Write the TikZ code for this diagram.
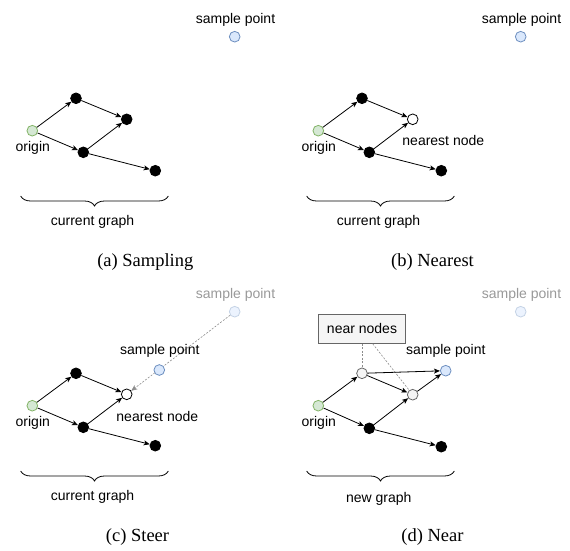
\documentclass[tikz,border=0pt]{standalone}
\usepackage{fontspec}
\setmainfont{Liberation Serif}
\newfontfamily\labfont{Liberation Sans}
\usetikzlibrary{arrows.meta,decorations.pathreplacing}
\definecolor{blueF}{HTML}{DAE8FC}
\definecolor{blueD}{HTML}{6C8EBF}
\definecolor{greenF}{HTML}{D5E8D4}
\definecolor{greenD}{HTML}{82B366}
\definecolor{grayF}{HTML}{F5F5F5}
\definecolor{grayD}{HTML}{666666}
\begin{document}
\begin{tikzpicture}[x=1pt,y=-1pt,
 ptbase/.style={circle,minimum size=10.7pt,inner sep=0pt,line width=0.8pt},
 blk/.style={ptbase,fill=black,draw=black},
 org/.style={ptbase,fill=greenF,draw=greenD},
 smp/.style={ptbase,fill=blueF,draw=blueD},
 fsmp/.style={ptbase,fill=blueF!50,draw=blueD!40},
 wht/.style={ptbase,fill=white,draw=black},
 nearpt/.style={ptbase,fill=grayF,draw=grayD},
 lbl/.style={font=\labfont\fontsize{14}{16}\selectfont,inner sep=0pt,anchor=base},
 flbl/.style={lbl,text=black!40},
 captext/.style={font=\fontsize{18.5}{22}\selectfont,inner sep=0pt,anchor=base},
 arr/.style={-{Stealth[length=6pt,width=5pt,inset=1.5pt]},line width=0.8pt},
 dsh/.style={draw=black!45,dash pattern=on 2pt off 1.5pt,line width=0.6pt},
 brc/.style={decorate,decoration={brace,amplitude=10pt,mirror},line width=0.8pt},
 boxstyle/.style={draw=grayD,fill=grayF,minimum width=87.4pt,minimum height=29.3pt,inner sep=0pt,line width=0.8pt,font=\labfont\fontsize{14}{16}\selectfont}
]
\useasboundingbox (0,0) rectangle (570,550);
% ---------- (a) ----------
\begin{scope}[shift={(0,0)}]
 \node[smp] (aS) at (234.7,36.7) {};
 \node[lbl] (aSl) at (235.5,23) {sample point};
 \node[org] (aO) at (32.3,130.7) {};
 \node[lbl] (aOl) at (32.8,151.7) {origin};
 \node[blk] (aA) at (76,98.3) {};
 \node[blk] (aB) at (126.7,119.3) {};
 \node[blk] (aC) at (83.3,152.3) {};
 \node[blk] (aD) at (155.3,170.7) {};
 \draw[arr] (aO) -- (aA);
 \draw[arr] (aA) -- (aB);
 \draw[arr] (aO) -- (aC);
 \draw[arr] (aC) -- (aB);
 \draw[arr] (aC) -- (aD);
 \coordinate (aL) at (20.7,196);
 \coordinate (aR) at (168.3,196);
 \draw[brc] (aL) -- (aR);
 \node[lbl] (aG) at (92.5,225.7) {current graph};
 \node[captext] (aCap) at (145.3,266.7) {(a) Sampling};
\end{scope}
% ---------- (b) ----------
\begin{scope}[shift={(286,0)}]
 \node[smp] (bS) at (234.7,36.7) {};
 \node[lbl] (bSl) at (235.5,23) {sample point};
 \node[org] (bO) at (32.3,130.7) {};
 \node[lbl] (bOl) at (32.8,151.7) {origin};
 \node[blk] (bA) at (76,98.3) {};
 \node[wht] (bB) at (126.7,119.3) {};
 \node[blk] (bC) at (83.3,152.3) {};
 \node[blk] (bD) at (155.3,170.7) {};
 \node[lbl] (bNl) at (157.3,145) {nearest node};
 \draw[arr] (bO) -- (bA);
 \draw[arr] (bA) -- (bB);
 \draw[arr] (bO) -- (bC);
 \draw[arr] (bC) -- (bB);
 \draw[arr] (bC) -- (bD);
 \coordinate (bL) at (20.7,196);
 \coordinate (bR) at (168.3,196);
 \draw[brc] (bL) -- (bR);
 \node[lbl] (bG) at (92.5,225.7) {current graph};
 \node[captext] (bCap) at (146.5,266.7) {(b) Nearest};
\end{scope}
% ---------- (c) ----------
\begin{scope}[shift={(0,275)}]
 \node[fsmp] (cF) at (234.7,36.7) {};
 \node[flbl] (cFl) at (235.5,23) {sample point};
 \node[org] (cO) at (32.3,130.7) {};
 \node[lbl] (cOl) at (32.8,151.7) {origin};
 \node[blk] (cA) at (76,98.3) {};
 \node[wht] (cB) at (126.7,119.3) {};
 \node[blk] (cC) at (83.3,152.3) {};
 \node[blk] (cD) at (155.3,170.7) {};
 \node[lbl] (cNl) at (157.3,146.7) {nearest node};
 \draw[arr] (cO) -- (cA);
 \draw[arr] (cA) -- (cB);
 \draw[arr] (cO) -- (cC);
 \draw[arr] (cC) -- (cB);
 \draw[arr] (cC) -- (cD);
 \draw[dsh,-{Stealth[length=6pt,width=5pt,inset=1.5pt]}] (cF) -- (cB);
 \node[smp] (cS) at (159.3,95) {};
 \node[lbl] (cSl) at (159.8,79.3) {sample point};
 \coordinate (cL) at (20.7,196);
 \coordinate (cR) at (168.3,196);
 \draw[brc] (cL) -- (cR);
 \node[lbl] (cG) at (92.5,225.7) {current graph};
 \node[captext] (cCap) at (137.5,266.7) {(c) Steer};
\end{scope}
% ---------- (d) ----------
\begin{scope}[shift={(286,275)}]
 \node[fsmp] (dF) at (234.7,36.7) {};
 \node[flbl] (dFl) at (235.5,23) {sample point};
 \node[org] (dO) at (32.3,130.7) {};
 \node[lbl] (dOl) at (32.8,151.7) {origin};
 \node[nearpt] (dA) at (76,98.3) {};
 \node[nearpt] (dB) at (126.7,119.7) {};
 \node[blk] (dC) at (83.3,153.3) {};
 \node[blk] (dD) at (155.3,171.7) {};
 \node[smp] (dS) at (159.7,95.7) {};
 \node[lbl] (dSl) at (159.8,79.3) {sample point};
 \node[boxstyle] (dBox) at (76,53.7) {near nodes};
 \draw[dsh] (dBox.south) -- (dA);
 \draw[dsh] ([xshift=10.7pt]dBox.south) -- (dB);
 \draw[arr] (dO) -- (dA);
 \draw[arr] (dA) -- (dS);
 \draw[arr] (dA) -- (dB);
 \draw[arr] (dB) -- (dS);
 \draw[arr] (dO) -- (dC);
 \draw[arr] (dC) -- (dB);
 \draw[arr] (dC) -- (dD);
 \coordinate (dL) at (20.7,196);
 \coordinate (dR) at (168.3,196);
 \draw[brc] (dL) -- (dR);
 \node[lbl] (dG) at (92.7,227.3) {new graph};
 \node[captext] (dCap) at (146.5,266.7) {(d) Near};
\end{scope}
\end{tikzpicture}
\end{document}
